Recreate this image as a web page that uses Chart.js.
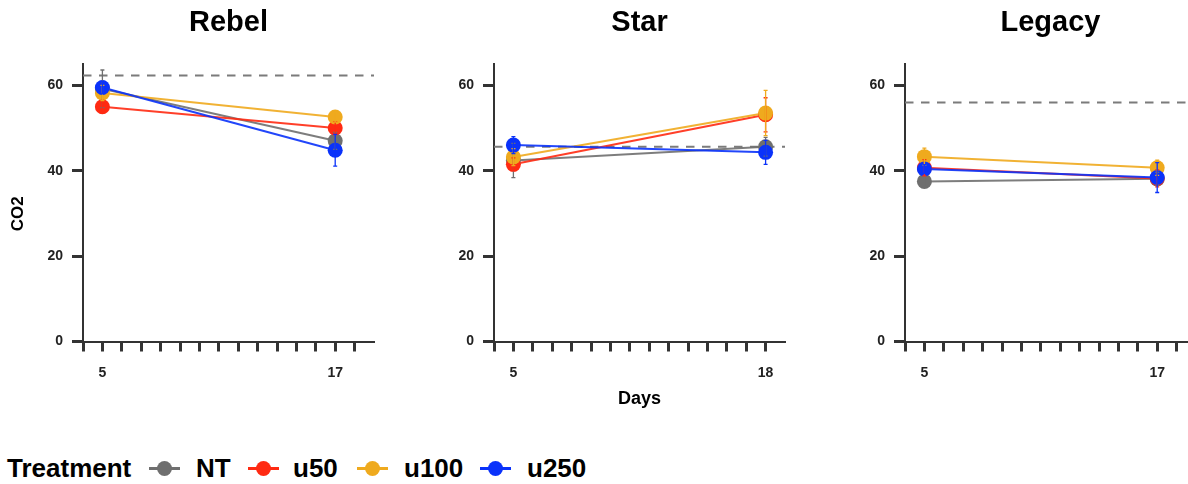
<!DOCTYPE html>
<html>
<head>
<meta charset="utf-8">
<title>CO2 by Days and Treatment</title>
<script src="https://cdn.jsdelivr.net/npm/chart.js@4/dist/chart.umd.min.js"></script>
<style>
  html, body { margin: 0; padding: 0; background: #fff; }
  body {
    width: 1188px; height: 484px; overflow: hidden; position: relative;
    font-family: 'Liberation Sans', Arial, Helvetica, sans-serif;
  }
  canvas.panel { position: absolute; top: 0; }
  .legend-text {
    position: absolute; top: 453px; line-height: 30px;
    font-size: 26px; font-weight: bold; color: #000; white-space: nowrap;
  }
  .legend-key { position: absolute; top: 453px; width: 31px; height: 30px; }
  .legend-key .seg { position: absolute; left: 0; top: 13.5px; width: 31px; height: 3px; }
  .legend-key .dot { position: absolute; left: 8px; top: 7.5px; width: 15px; height: 15px; border-radius: 50%; }
</style>
</head>
<body>
<canvas id="rebel" class="panel" width="411" height="420" style="left:0px"></canvas>
<canvas id="star" class="panel" width="411" height="420" style="left:411px"></canvas>
<canvas id="legacy" class="panel" width="411" height="420" style="left:822px"></canvas>
<div id="legend"></div>

<script>
// ---- data ----
const treatments = ['NT', 'u50', 'u100', 'u250'];

const rebelDays = [5, 17];
const rebelNT = [59.2, 47.0];
const rebelNTErr = [4.4, 2.0];
const rebelU50 = [55.0, 50.0];
const rebelU50Err = [1.5, 1.5];
const rebelU100 = [58.2, 52.6];
const rebelU100Err = [1.8, 1.2];
const rebelU250 = [59.5, 44.8];
const rebelU250Err = [1.5, 3.7];
const rebelRef = 62.3;

const starDays = [5, 18];
const starNT = [42.4, 45.6];
const starNTErr = [4.0, 2.2];
const starU50 = [41.5, 53.1];
const starU50Err = [1.5, 4.0];
const starU100 = [43.2, 53.5];
const starU100Err = [2.0, 5.3];
const starU250 = [46.0, 44.3];
const starU250Err = [2.0, 2.8];
const starRef = 45.6;

const legacyDays = [5, 17];
const legacyNT = [37.5, 38.1];
const legacyNTErr = [1.2, 1.5];
const legacyU50 = [40.7, 38.2];
const legacyU50Err = [1.9, 2.0];
const legacyU100 = [43.3, 40.7];
const legacyU100Err = [2.0, 1.8];
const legacyU250 = [40.4, 38.4];
const legacyU250Err = [1.0, 3.5];
const legacyRef = 56.0;

// axis breaks
const dayTicks = [4, 5, 6, 7, 8, 9, 10, 11, 12, 13, 14, 15, 16, 17, 18];
const co2Ticks = [0, 20, 40, 60];

// ---- styles ----
const treatmentColors = ['#6f6f6f', '#ff2a12', '#efaa1e', '#0a32fa'];
const lineColors = ['rgba(111,111,111,0.9)', 'rgba(255,42,18,0.9)', 'rgba(239,170,30,0.9)', 'rgba(10,50,250,0.9)'];
const FONT = "'Liberation Sans', Arial, Helvetica, sans-serif";
const AXIS_COLOR = '#333333';

// vertical error bars with small caps, drawn above the points
const errorBarPlugin = {
  id: 'errorBars',
  afterDatasetsDraw(chart) {
    const { ctx, scales: { x, y } } = chart;
    chart.data.datasets.forEach((ds) => {
      if (!ds.errors) return;
      ctx.save();
      ctx.strokeStyle = ds.backgroundColor;
      ctx.lineWidth = 1.3;
      ds.data.forEach((pt, j) => {
        const px = x.getPixelForValue(pt.x);
        const top = y.getPixelForValue(pt.y + ds.errors[j]);
        const bot = y.getPixelForValue(pt.y - ds.errors[j]);
        ctx.beginPath();
        ctx.moveTo(px, top); ctx.lineTo(px, bot);
        ctx.moveTo(px - 2, top); ctx.lineTo(px + 2, top);
        ctx.moveTo(px - 2, bot); ctx.lineTo(px + 2, bot);
        ctx.stroke();
      });
      ctx.restore();
    });
  }
};

// rotated y-axis title, placed a little below the middle of the plot area
const yAxisTitlePlugin = {
  id: 'yAxisTitle',
  afterDraw(chart, args, opts) {
    if (!opts.text) return;
    const { ctx, chartArea } = chart;
    const cy = (chartArea.top + chartArea.bottom) / 2 + opts.shift;
    ctx.save();
    ctx.translate(opts.x, cy);
    ctx.rotate(-Math.PI / 2);
    ctx.font = 'bold 17px ' + FONT;
    ctx.fillStyle = '#000';
    ctx.textAlign = 'center';
    ctx.textBaseline = 'middle';
    ctx.fillText(opts.text, 0, 0);
    ctx.restore();
  }
};

function makePanel(id, title, days, series, errs, ref, yTitle, showXTitle) {
  const datasets = [];
  // dashed reference level, lowest layer
  datasets.push({
    data: [{ x: 4, y: ref }, { x: 19, y: ref }],
    borderColor: '#7b7b7b', borderWidth: 2, borderDash: [8.5, 7.5],
    pointRadius: 0, order: 20
  });
  // connecting lines
  series.forEach((vals, i) => {
    datasets.push({
      label: treatments[i] + ' line',
      data: days.map((d, j) => ({ x: d, y: vals[j] })),
      borderColor: lineColors[i], borderWidth: 2,
      pointRadius: 0, order: 13 - i
    });
  });
  // points with error bars
  series.forEach((vals, i) => {
    datasets.push({
      label: treatments[i],
      data: days.map((d, j) => ({ x: d, y: vals[j] })),
      errors: errs[i],
      showLine: false,
      backgroundColor: treatmentColors[i], borderColor: treatmentColors[i],
      borderWidth: 0, pointRadius: 7.5, order: 4 - i
    });
  });

  return new Chart(document.getElementById(id), {
    type: 'line',
    data: { datasets },
    plugins: [errorBarPlugin, yAxisTitlePlugin],
    options: {
      responsive: false,
      animation: false,
      devicePixelRatio: 1,
      events: [],
      layout: { padding: { left: 0, right: 37, top: 0, bottom: 0 } },
      plugins: {
        legend: { display: false },
        tooltip: { enabled: false },
        yAxisTitle: { text: yTitle, x: 18.5, shift: 11 },
        title: {
          display: true, text: title, color: '#000', fullSize: false,
          font: { family: FONT, size: 29, weight: 'bold', lineHeight: 1.2 },
          padding: { top: 5.6, bottom: 23.6 }
        }
      },
      scales: {
        x: {
          type: 'linear', min: 4, max: 19,
          afterBuildTicks: (scale) => { scale.ticks = dayTicks.map(v => ({ value: v })); },
          afterFit: (scale) => { scale.height = 78.5; },
          grid: { display: true, drawOnChartArea: false, drawTicks: true, tickLength: 10, tickWidth: 3, tickColor: AXIS_COLOR },
          border: { display: true, color: AXIS_COLOR, width: 2 },
          ticks: {
            autoSkip: false, maxRotation: 0, padding: 13, color: '#222',
            font: { family: FONT, size: 14, weight: 'bold' },
            callback: (v) => days.includes(v) ? String(v) : ''
          },
          title: {
            display: showXTitle, text: 'Days', color: '#000',
            font: { family: FONT, size: 18, weight: 'bold', lineHeight: 1.2 },
            padding: 10
          }
        },
        y: {
          type: 'linear', min: 0, max: 65,
          afterBuildTicks: (scale) => { scale.ticks = co2Ticks.map(v => ({ value: v })); },
          afterFit: (scale) => { scale.width = 83; },
          grid: { display: true, drawOnChartArea: false, drawTicks: true, tickLength: 11, tickWidth: 3, tickColor: AXIS_COLOR },
          border: { display: true, color: AXIS_COLOR, width: 2 },
          ticks: {
            padding: 9, color: '#222',
            font: { family: FONT, size: 14, weight: 'bold' }
          }
        }
      }
    }
  });
}

makePanel('rebel', 'Rebel', rebelDays,
  [rebelNT, rebelU50, rebelU100, rebelU250],
  [rebelNTErr, rebelU50Err, rebelU100Err, rebelU250Err], rebelRef, 'CO2', false);
makePanel('star', 'Star', starDays,
  [starNT, starU50, starU100, starU250],
  [starNTErr, starU50Err, starU100Err, starU250Err], starRef, '', true);
makePanel('legacy', 'Legacy', legacyDays,
  [legacyNT, legacyU50, legacyU100, legacyU250],
  [legacyNTErr, legacyU50Err, legacyU100Err, legacyU250Err], legacyRef, '', false);

// ---- legend ----
const legend = document.getElementById('legend');
const legendTitleLeft = 7;
const keyLefts = [149, 248, 357, 480];
const labelLefts = [196, 293, 404, 527];
const t = document.createElement('div');
t.className = 'legend-text';
t.style.left = legendTitleLeft + 'px';
t.textContent = 'Treatment';
legend.appendChild(t);
treatments.forEach((name, i) => {
  const key = document.createElement('div');
  key.className = 'legend-key';
  key.style.left = keyLefts[i] + 'px';
  const seg = document.createElement('div');
  seg.className = 'seg'; seg.style.background = treatmentColors[i];
  const dot = document.createElement('div');
  dot.className = 'dot'; dot.style.background = treatmentColors[i];
  key.appendChild(seg); key.appendChild(dot);
  legend.appendChild(key);
  const lab = document.createElement('div');
  lab.className = 'legend-text';
  lab.style.left = labelLefts[i] + 'px';
  lab.textContent = name;
  legend.appendChild(lab);
});
</script>
</body>
</html>
